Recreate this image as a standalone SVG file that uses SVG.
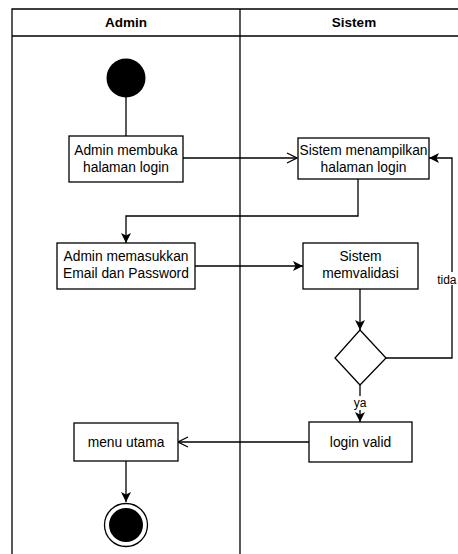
<svg xmlns="http://www.w3.org/2000/svg" width="458" height="554" viewBox="0 0 458 554">
  <style>
    .lane { fill: none; stroke: #000; stroke-width: 1.3; }
    .box { fill: #fff; stroke: #000; stroke-width: 1.3; }
    .edge { fill: none; stroke: #000; stroke-width: 1.3; }
    .t { font-family: "Liberation Sans", Arial, sans-serif; font-size: 13.8px; fill: #000; text-anchor: middle; }
    .h { font-family: "Liberation Sans", Arial, sans-serif; font-size: 13.5px; font-weight: bold; fill: #000; text-anchor: middle; }
    .lbl { font-family: "Liberation Sans", Arial, sans-serif; font-size: 12px; fill: #000; text-anchor: middle; }
    .lbl-end { font-family: "Liberation Sans", Arial, sans-serif; font-size: 12px; fill: #000; text-anchor: end; }
  </style>
  <defs>
    <marker id="solid" viewBox="0 0 10 10" refX="10" refY="5" markerWidth="10" markerHeight="10" markerUnits="userSpaceOnUse" orient="auto">
      <path d="M0,0 L10,5 L0,10 L2.5,5 Z" fill="#000"/>
    </marker>
    <marker id="open" viewBox="0 0 12 12" refX="11" refY="6" markerWidth="12" markerHeight="12" markerUnits="userSpaceOnUse" orient="auto">
      <path d="M1,1 L11,6 L1,11" fill="none" stroke="#000" stroke-width="1.3"/>
    </marker>
  </defs>

  <rect width="458" height="554" fill="#fff"/>

  <!-- swimlanes -->
  <g id="lanes">
    <path class="lane" d="M12,560 V9 H470 M12,36 H470 M240,9 V560"/>
    <text class="h" x="126" y="27">Admin</text>
    <text class="h" x="354" y="27">Sistem</text>
  </g>

  <!-- connectors -->
  <g id="connectors">
    <path class="edge" d="M126,97 V136"/>
    <path class="edge" d="M183,158 H297" marker-end="url(#open)"/>
    <path class="edge" d="M358,179 V216 H126 V243" marker-end="url(#solid)"/>
    <path class="edge" d="M195,266 H303" marker-end="url(#solid)"/>
    <path class="edge" d="M360,289 V330" marker-end="url(#solid)"/>
    <path class="edge" d="M386,358 H452 V158 H429" marker-end="url(#solid)"/>
    <rect x="437" y="272" width="21" height="13" fill="#fff"/>
    <text class="lbl-end" x="456.5" y="284">tida</text>
    <path class="edge" d="M360,385 V422" marker-end="url(#solid)"/>
    <rect x="352" y="396" width="16" height="14" fill="#fff"/>
    <text class="lbl" x="360" y="407">ya</text>
    <path class="edge" d="M309,442 H178" marker-end="url(#open)"/>
    <path class="edge" d="M126,461 V502" marker-end="url(#solid)"/>
  </g>

  <!-- nodes -->
  <g id="start">
    <circle cx="126" cy="78" r="19.5" fill="#000"/>
  </g>
  <g id="admin-buka">
    <rect class="box" x="69" y="136" width="114" height="46"/>
    <text class="t" x="126" y="155">Admin membuka</text>
    <text class="t" x="126" y="172">halaman login</text>
  </g>
  <g id="sistem-tampil">
    <rect class="box" x="298" y="138" width="131" height="41"/>
    <text class="t" x="363.5" y="155">Sistem menampilkan</text>
    <text class="t" x="363.5" y="172">halaman login</text>
  </g>
  <g id="admin-input">
    <rect class="box" x="57" y="243" width="138" height="46"/>
    <text class="t" x="126" y="261">Admin memasukkan</text>
    <text class="t" x="126" y="278">Email dan Password</text>
  </g>
  <g id="sistem-validasi">
    <rect class="box" x="303" y="243" width="115" height="46"/>
    <text class="t" x="360.5" y="261">Sistem</text>
    <text class="t" x="360.5" y="278">memvalidasi</text>
  </g>
  <g id="decision">
    <path class="box" d="M360,330 L386,358 L360,385 L335,358 Z"/>
  </g>
  <g id="login-valid">
    <rect class="box" x="309" y="422" width="103" height="40"/>
    <text class="t" x="360.5" y="447">login valid</text>
  </g>
  <g id="menu-utama">
    <rect class="box" x="74" y="423" width="104" height="38"/>
    <text class="t" x="126" y="447">menu utama</text>
  </g>
  <g id="end">
    <circle cx="126" cy="525" r="21.5" fill="#fff" stroke="#000" stroke-width="1.3"/>
    <circle cx="126" cy="525" r="17" fill="#000"/>
  </g>
</svg>
